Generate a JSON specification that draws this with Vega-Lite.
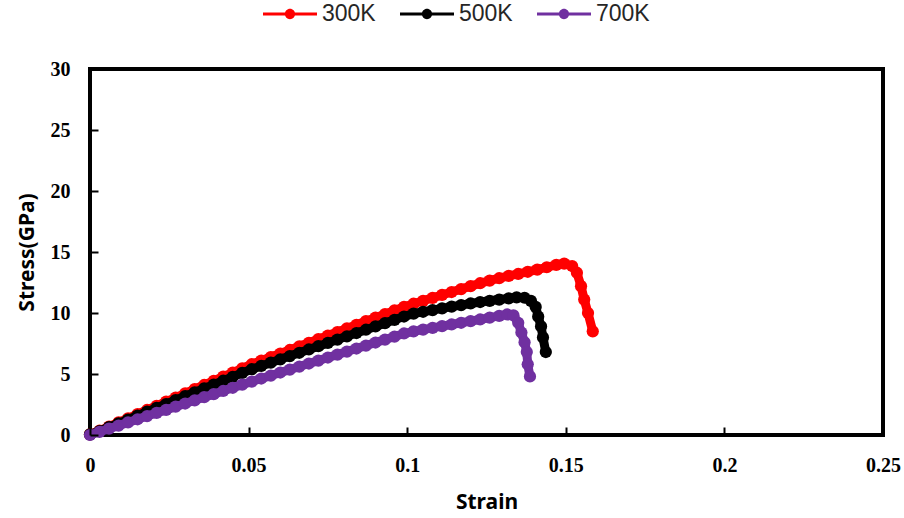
{
  "$schema": "https://vega.github.io/schema/vega-lite/v6.json",
  "width": 793,
  "height": 366,
  "autosize": {"type": "none"},
  "padding": {"left": 90, "top": 69, "right": 21, "bottom": 83},
  "background": "white",
  "config": {
    "view": {"stroke": "black", "strokeWidth": 4},
    "axis": {
      "grid": false,
      "domain": false,
      "labelFont": "Liberation Serif",
      "labelFontWeight": "bold",
      "labelFontSize": 20,
      "labelColor": "black",
      "titleFont": "Noto Sans",
      "titleFontWeight": "bold",
      "titleFontSize": 21,
      "titleColor": "black"
    },
    "legend": {
      "labelFont": "Liberation Sans",
      "labelFontSize": 23,
      "labelColor": "#262626"
    }
  },
  "data": {
    "values": [
      {"T":"300K","strain":0.000,"stress":0.05},{"T":"300K","strain":0.003,"stress":0.35},{"T":"300K","strain":0.006,"stress":0.69},{"T":"300K","strain":0.009,"stress":1.03},{"T":"300K","strain":0.012,"stress":1.37},{"T":"300K","strain":0.015,"stress":1.71},{"T":"300K","strain":0.018,"stress":2.05},{"T":"300K","strain":0.021,"stress":2.39},{"T":"300K","strain":0.024,"stress":2.73},{"T":"300K","strain":0.027,"stress":3.07},{"T":"300K","strain":0.030,"stress":3.41},{"T":"300K","strain":0.033,"stress":3.76},{"T":"300K","strain":0.036,"stress":4.10},{"T":"300K","strain":0.039,"stress":4.44},{"T":"300K","strain":0.042,"stress":4.78},{"T":"300K","strain":0.045,"stress":5.12},{"T":"300K","strain":0.048,"stress":5.46},{"T":"300K","strain":0.051,"stress":5.80},{"T":"300K","strain":0.054,"stress":6.09},{"T":"300K","strain":0.057,"stress":6.39},{"T":"300K","strain":0.060,"stress":6.68},{"T":"300K","strain":0.063,"stress":6.97},{"T":"300K","strain":0.066,"stress":7.27},{"T":"300K","strain":0.069,"stress":7.56},{"T":"300K","strain":0.072,"stress":7.86},{"T":"300K","strain":0.075,"stress":8.15},{"T":"300K","strain":0.078,"stress":8.44},{"T":"300K","strain":0.081,"stress":8.74},{"T":"300K","strain":0.084,"stress":9.03},{"T":"300K","strain":0.087,"stress":9.33},{"T":"300K","strain":0.090,"stress":9.62},{"T":"300K","strain":0.093,"stress":9.91},{"T":"300K","strain":0.096,"stress":10.21},{"T":"300K","strain":0.099,"stress":10.50},{"T":"300K","strain":0.102,"stress":10.76},{"T":"300K","strain":0.105,"stress":11.00},{"T":"300K","strain":0.108,"stress":11.24},{"T":"300K","strain":0.111,"stress":11.48},{"T":"300K","strain":0.114,"stress":11.72},{"T":"300K","strain":0.117,"stress":11.96},{"T":"300K","strain":0.120,"stress":12.20},{"T":"300K","strain":0.123,"stress":12.44},{"T":"300K","strain":0.126,"stress":12.66},{"T":"300K","strain":0.129,"stress":12.85},{"T":"300K","strain":0.132,"stress":13.04},{"T":"300K","strain":0.135,"stress":13.20},{"T":"300K","strain":0.138,"stress":13.38},{"T":"300K","strain":0.141,"stress":13.56},{"T":"300K","strain":0.144,"stress":13.75},{"T":"300K","strain":0.147,"stress":13.95},{"T":"300K","strain":0.1495,"stress":14.05},{"T":"300K","strain":0.152,"stress":13.85},{"T":"300K","strain":0.1535,"stress":13.3},{"T":"300K","strain":0.1548,"stress":12.2},{"T":"300K","strain":0.1558,"stress":11.1},{"T":"300K","strain":0.157,"stress":10.0},{"T":"300K","strain":0.1585,"stress":8.5},
      {"T":"500K","strain":0.000,"stress":0.05},{"T":"500K","strain":0.003,"stress":0.32},{"T":"500K","strain":0.006,"stress":0.64},{"T":"500K","strain":0.009,"stress":0.95},{"T":"500K","strain":0.012,"stress":1.27},{"T":"500K","strain":0.015,"stress":1.59},{"T":"500K","strain":0.018,"stress":1.91},{"T":"500K","strain":0.021,"stress":2.23},{"T":"500K","strain":0.024,"stress":2.54},{"T":"500K","strain":0.027,"stress":2.86},{"T":"500K","strain":0.030,"stress":3.18},{"T":"500K","strain":0.033,"stress":3.50},{"T":"500K","strain":0.036,"stress":3.82},{"T":"500K","strain":0.039,"stress":4.13},{"T":"500K","strain":0.042,"stress":4.45},{"T":"500K","strain":0.045,"stress":4.77},{"T":"500K","strain":0.048,"stress":5.09},{"T":"500K","strain":0.051,"stress":5.39},{"T":"500K","strain":0.054,"stress":5.66},{"T":"500K","strain":0.057,"stress":5.93},{"T":"500K","strain":0.060,"stress":6.20},{"T":"500K","strain":0.063,"stress":6.47},{"T":"500K","strain":0.066,"stress":6.74},{"T":"500K","strain":0.069,"stress":7.01},{"T":"500K","strain":0.072,"stress":7.28},{"T":"500K","strain":0.075,"stress":7.55},{"T":"500K","strain":0.078,"stress":7.82},{"T":"500K","strain":0.081,"stress":8.09},{"T":"500K","strain":0.084,"stress":8.36},{"T":"500K","strain":0.087,"stress":8.63},{"T":"500K","strain":0.090,"stress":8.90},{"T":"500K","strain":0.093,"stress":9.17},{"T":"500K","strain":0.096,"stress":9.44},{"T":"500K","strain":0.099,"stress":9.71},{"T":"500K","strain":0.102,"stress":9.95},{"T":"500K","strain":0.105,"stress":10.10},{"T":"500K","strain":0.108,"stress":10.24},{"T":"500K","strain":0.111,"stress":10.38},{"T":"500K","strain":0.114,"stress":10.52},{"T":"500K","strain":0.117,"stress":10.65},{"T":"500K","strain":0.120,"stress":10.78},{"T":"500K","strain":0.123,"stress":10.90},{"T":"500K","strain":0.126,"stress":11.00},{"T":"500K","strain":0.129,"stress":11.10},{"T":"500K","strain":0.132,"stress":11.20},{"T":"500K","strain":0.1345,"stress":11.28},{"T":"500K","strain":0.137,"stress":11.25},{"T":"500K","strain":0.139,"stress":11.0},{"T":"500K","strain":0.1405,"stress":10.5},{"T":"500K","strain":0.1413,"stress":9.7},{"T":"500K","strain":0.1422,"stress":8.9},{"T":"500K","strain":0.1428,"stress":8.0},{"T":"500K","strain":0.1437,"stress":6.8},
      {"T":"700K","strain":0.000,"stress":0.0},{"T":"700K","strain":0.003,"stress":0.26},{"T":"700K","strain":0.006,"stress":0.52},{"T":"700K","strain":0.009,"stress":0.77},{"T":"700K","strain":0.012,"stress":1.03},{"T":"700K","strain":0.015,"stress":1.29},{"T":"700K","strain":0.018,"stress":1.55},{"T":"700K","strain":0.021,"stress":1.81},{"T":"700K","strain":0.024,"stress":2.06},{"T":"700K","strain":0.027,"stress":2.32},{"T":"700K","strain":0.030,"stress":2.58},{"T":"700K","strain":0.033,"stress":2.84},{"T":"700K","strain":0.036,"stress":3.10},{"T":"700K","strain":0.039,"stress":3.35},{"T":"700K","strain":0.042,"stress":3.61},{"T":"700K","strain":0.045,"stress":3.87},{"T":"700K","strain":0.048,"stress":4.13},{"T":"700K","strain":0.051,"stress":4.38},{"T":"700K","strain":0.054,"stress":4.63},{"T":"700K","strain":0.057,"stress":4.87},{"T":"700K","strain":0.060,"stress":5.12},{"T":"700K","strain":0.063,"stress":5.36},{"T":"700K","strain":0.066,"stress":5.61},{"T":"700K","strain":0.069,"stress":5.86},{"T":"700K","strain":0.072,"stress":6.10},{"T":"700K","strain":0.075,"stress":6.35},{"T":"700K","strain":0.078,"stress":6.59},{"T":"700K","strain":0.081,"stress":6.84},{"T":"700K","strain":0.084,"stress":7.09},{"T":"700K","strain":0.087,"stress":7.33},{"T":"700K","strain":0.090,"stress":7.58},{"T":"700K","strain":0.093,"stress":7.82},{"T":"700K","strain":0.096,"stress":8.07},{"T":"700K","strain":0.099,"stress":8.32},{"T":"700K","strain":0.102,"stress":8.50},{"T":"700K","strain":0.105,"stress":8.64},{"T":"700K","strain":0.108,"stress":8.78},{"T":"700K","strain":0.111,"stress":8.92},{"T":"700K","strain":0.114,"stress":9.06},{"T":"700K","strain":0.117,"stress":9.20},{"T":"700K","strain":0.120,"stress":9.33},{"T":"700K","strain":0.123,"stress":9.47},{"T":"700K","strain":0.126,"stress":9.62},{"T":"700K","strain":0.129,"stress":9.77},{"T":"700K","strain":0.1315,"stress":9.88},{"T":"700K","strain":0.1335,"stress":9.80},{"T":"700K","strain":0.135,"stress":9.2},{"T":"700K","strain":0.136,"stress":8.4},{"T":"700K","strain":0.137,"stress":7.6},{"T":"700K","strain":0.1377,"stress":6.8},{"T":"700K","strain":0.138,"stress":5.8},{"T":"700K","strain":0.1387,"stress":4.8}
    ]
  },
  "encoding": {
    "x": {
      "field": "strain", "type": "quantitative",
      "scale": {"domain": [0, 0.25], "nice": false, "zero": true},
      "axis": {"title": "Strain", "values": [0, 0.05, 0.1, 0.15, 0.2, 0.25], "format": "~g", "ticks": true, "tickSize": 8, "offset": -8, "tickWidth": 2, "tickColor": "#000000", "tickOpacity": 1, "labelPadding": 20, "titlePadding": 16, "labelFlush": false, "zindex": 1}
    },
    "y": {
      "field": "stress", "type": "quantitative",
      "scale": {"domain": [0, 30], "nice": false},
      "axis": {"title": "Stress(GPa)", "values": [0, 5, 10, 15, 20, 25, 30], "ticks": true, "tickSize": 8, "offset": -8, "tickWidth": 2, "tickColor": "#000000", "tickOpacity": 1, "labelPadding": 20, "titlePadding": 13, "labelFlush": false, "zindex": 1}
    },
    "color": {
      "field": "T", "type": "nominal",
      "scale": {"domain": ["300K", "500K", "700K"], "range": ["#ff0000", "#000000", "#7030a0"]},
      "legend": {
        "title": null,
        "orient": "none",
        "direction": "horizontal",
        "legendX": 173,
        "legendY": -82,
        "symbolType": "M-1,-0.06H1V0.06H-1Z M-0.19,0A0.19,0.19 0 1,1 0.19,0A0.19,0.19 0 1,1 -0.19,0Z",
        "symbolSize": 2916,
        "symbolStrokeWidth": 0,
        "symbolOpacity": 1,
        "labelOffset": 5,
        "columnPadding": 24
      }
    }
  },
  "layer": [
    {"transform": [{"filter": "datum.T === '300K'"}], "mark": {"type": "line", "strokeWidth": 9, "clip": false}, "encoding": {"order": {"field": "strain", "type": "quantitative"}}},
    {"transform": [{"filter": "datum.T === '300K'"}], "mark": {"type": "point", "filled": true, "opacity": 1, "size": 150, "clip": false}},
    {"transform": [{"filter": "datum.T === '500K'"}], "mark": {"type": "line", "strokeWidth": 9, "clip": false}, "encoding": {"order": {"field": "strain", "type": "quantitative"}}},
    {"transform": [{"filter": "datum.T === '500K'"}], "mark": {"type": "point", "filled": true, "opacity": 1, "size": 150, "clip": false}},
    {"transform": [{"filter": "datum.T === '700K'"}], "mark": {"type": "line", "strokeWidth": 9, "clip": false}, "encoding": {"order": {"field": "strain", "type": "quantitative"}}},
    {"transform": [{"filter": "datum.T === '700K'"}], "mark": {"type": "point", "filled": true, "opacity": 1, "size": 150, "clip": false}}
  ]
}
